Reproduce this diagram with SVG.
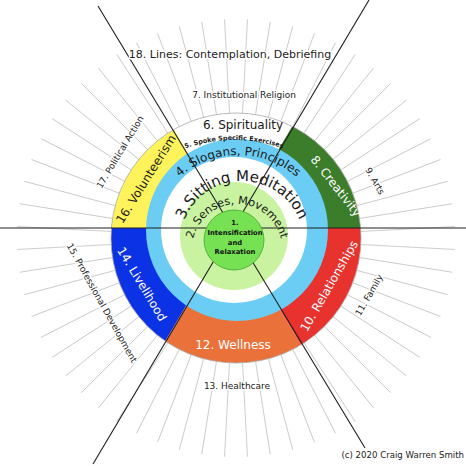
<svg xmlns="http://www.w3.org/2000/svg" width="466" height="466" viewBox="0 0 466 466">
<style>
text{font-family:"DejaVu Sans",Verdana,sans-serif;}
.spk line,.spk use{stroke:#c2c2c2;stroke-width:0.8;}
.div line{stroke:#1e1e1e;stroke-width:1.1;}
.out{font-size:9px;fill:#222;text-anchor:middle;paint-order:stroke;stroke:#fff;stroke-width:3px;stroke-linejoin:round;}
.seg{font-size:12px;text-anchor:middle;}
.w{fill:#fff;}
.k{fill:#1a1a1a;}
.ring{text-anchor:middle;fill:#1a1a1a;}
.core{font-size:6.8px;font-weight:bold;text-anchor:middle;fill:#111;}
</style>
<defs>
<clipPath id="ringClip"><circle cx="236" cy="238" r="125"/></clipPath>
<line id="sp" x1="361" y1="238" x2="455" y2="238"/>
<path id="arc5" d="M 89 285 A 145 145 0 0 1 379 285"/>
<path id="arc4" d="M 149 244 A 89 89 0 0 1 327 244"/>
<path id="arc3" d="M 180 243 A 62 62 0 0 1 304 243"/>
<path id="arc2" d="M 192 249 A 45 45 0 0 1 282 249"/>
</defs>
<rect width="466" height="466" fill="#fff"/>
<g id="spokes" class="spk">
<use href="#sp" transform="rotate(3 236 238)"/><use href="#sp" transform="rotate(9 236 238)"/><use href="#sp" transform="rotate(15 236 238)"/><use href="#sp" transform="rotate(21 236 238)"/><use href="#sp" transform="rotate(27 236 238)"/><use href="#sp" transform="rotate(33 236 238)"/><use href="#sp" transform="rotate(39 236 238)"/><use href="#sp" transform="rotate(45 236 238)"/><use href="#sp" transform="rotate(51 236 238)"/><use href="#sp" transform="rotate(57 236 238)"/>
<use href="#sp" transform="rotate(63 236 238)"/><use href="#sp" transform="rotate(69 236 238)"/><use href="#sp" transform="rotate(75 236 238)"/><use href="#sp" transform="rotate(81 236 238)"/><use href="#sp" transform="rotate(87 236 238)"/><use href="#sp" transform="rotate(93 236 238)"/><use href="#sp" transform="rotate(99 236 238)"/><use href="#sp" transform="rotate(105 236 238)"/><use href="#sp" transform="rotate(111 236 238)"/><use href="#sp" transform="rotate(117 236 238)"/>
<use href="#sp" transform="rotate(123 236 238)"/><use href="#sp" transform="rotate(129 236 238)"/><use href="#sp" transform="rotate(135 236 238)"/><use href="#sp" transform="rotate(141 236 238)"/><use href="#sp" transform="rotate(147 236 238)"/><use href="#sp" transform="rotate(153 236 238)"/><use href="#sp" transform="rotate(159 236 238)"/><use href="#sp" transform="rotate(165 236 238)"/><use href="#sp" transform="rotate(171 236 238)"/><use href="#sp" transform="rotate(177 236 238)"/>
<use href="#sp" transform="rotate(183 236 238)"/><use href="#sp" transform="rotate(189 236 238)"/><use href="#sp" transform="rotate(195 236 238)"/><use href="#sp" transform="rotate(201 236 238)"/><use href="#sp" transform="rotate(207 236 238)"/><use href="#sp" transform="rotate(213 236 238)"/><use href="#sp" transform="rotate(219 236 238)"/><use href="#sp" transform="rotate(225 236 238)"/><use href="#sp" transform="rotate(231 236 238)"/><use href="#sp" transform="rotate(237 236 238)"/>
<use href="#sp" transform="rotate(243 236 238)"/><use href="#sp" transform="rotate(249 236 238)"/><use href="#sp" transform="rotate(255 236 238)"/><use href="#sp" transform="rotate(261 236 238)"/><use href="#sp" transform="rotate(267 236 238)"/><use href="#sp" transform="rotate(273 236 238)"/><use href="#sp" transform="rotate(279 236 238)"/><use href="#sp" transform="rotate(285 236 238)"/><use href="#sp" transform="rotate(291 236 238)"/><use href="#sp" transform="rotate(297 236 238)"/>
<use href="#sp" transform="rotate(303 236 238)"/><use href="#sp" transform="rotate(309 236 238)"/><use href="#sp" transform="rotate(315 236 238)"/><use href="#sp" transform="rotate(321 236 238)"/><use href="#sp" transform="rotate(327 236 238)"/><use href="#sp" transform="rotate(333 236 238)"/><use href="#sp" transform="rotate(339 236 238)"/><use href="#sp" transform="rotate(345 236 238)"/><use href="#sp" transform="rotate(351 236 238)"/><use href="#sp" transform="rotate(357 236 238)"/>
</g>
<g id="sectors" clip-path="url(#ringClip)">
<polygon id="s-creativity" points="232,228 632,228 435,-116" fill="#3b7d2b"/>
<polygon id="s-spirituality" points="232,228 435,-116 29,-116" fill="#ffffff"/>
<polygon id="s-volunteerism" points="232,228 29,-116 -168,228" fill="#fff35c"/>
<polygon id="s-livelihood" points="232,228 -168,228 29,572" fill="#0c32e6"/>
<polygon id="s-wellness" points="232,228 29,572 435,572" fill="#ea723a"/>
<polygon id="s-relationships" points="232,228 435,572 632,228" fill="#e8322e"/>
</g>
<circle cx="236" cy="238" r="125" fill="none" stroke="#a8a8a8" stroke-width="0.8"/>
<g id="n4-slogans"><circle cx="237" cy="230" r="91" fill="#6ccdf4"/></g>
<g id="n3-sitting"><circle cx="234" cy="230" r="73" fill="#ffffff"/></g>
<g id="n2-senses"><circle cx="234" cy="236" r="54" fill="#c9f3a0"/></g>
<g id="connectors" class="div">
<line x1="0" y1="228" x2="466" y2="228"/>
<line x1="98" y1="6" x2="365" y2="448"/>
<line x1="369" y1="0" x2="93" y2="464"/>
</g>
<g id="n1-core">
<circle cx="234" cy="240" r="30" fill="#76e152" stroke="#48a631" stroke-width="0.8"/>
<text class="core" x="235" y="225">1.</text>
<text class="core" x="235" y="235">Intensification</text>
<text class="core" x="235" y="244.5">and</text>
<text class="core" x="235" y="254">Relaxation</text>
</g>
<g id="t-ring">
<text class="ring" font-size="6.5" font-weight="bold" fill="#000"><textPath href="#arc5" startOffset="50%">5. Spoke Specific Exercises</textPath></text>
<text class="ring" font-size="12"><textPath href="#arc4" startOffset="50%">4. Slogans, Principles</textPath></text>
<text class="ring" font-size="15"><textPath href="#arc3" startOffset="50%">3.Sitting Meditation</textPath></text>
<text class="ring" font-size="11.2"><textPath href="#arc2" startOffset="50%">2. Senses, Movement</textPath></text>
</g>
<g id="t-sectors">
<text class="seg k" font-size="10.6" x="243" y="128.5">6. Spirituality</text>
<text class="seg k" transform="translate(146,179) rotate(-58)" dy="0.35em">16. Volunteerism</text>
<text class="seg w" transform="translate(336,186) rotate(52)" dy="0.35em">8. Creativity</text>
<text class="seg w" transform="translate(329,286) rotate(-60)" dy="0.35em">10. Relationships</text>
<text class="seg w" x="233" y="349">12. Wellness</text>
<text class="seg w" transform="translate(142,284) rotate(59)" dy="0.35em">14. Livelihood</text>
</g>
<g id="t-outer">
<text class="out" style="font-size:11px" x="230" y="58">18. Lines: Contemplation, Debriefing</text>
<text class="out" x="244" y="97.5">7. Institutional Religion</text>
<text class="out" transform="translate(120,152) rotate(-59)" dy="0.35em">17. Political Action</text>
<text class="out" transform="translate(375,181) rotate(60)" dy="0.35em">9. Arts</text>
<text class="out" transform="translate(369,295) rotate(-60)" dy="0.35em">11. Family</text>
<text class="out" x="237" y="389">13. Healthcare</text>
<text class="out" transform="translate(102,303) rotate(61)" dy="0.35em">15. Professional Development</text>
</g>
<text x="464" y="458" font-size="8.6" fill="#222" text-anchor="end">(c) 2020 Craig Warren Smith</text>
</svg>
